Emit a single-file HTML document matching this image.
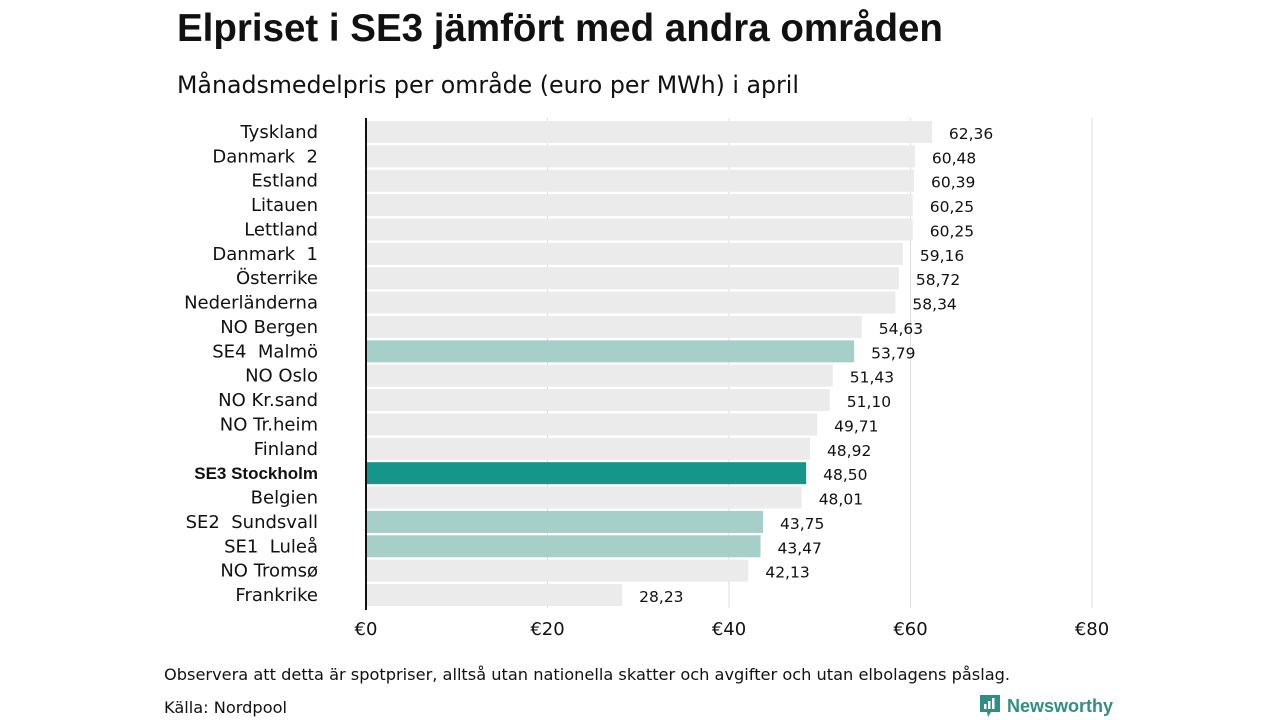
<!DOCTYPE html>
<html><head><meta charset="utf-8"><style>
body{margin:0;width:1280px;height:720px;background:#fff;font-family:"DejaVu Sans","Liberation Sans",sans-serif;color:#111;overflow:hidden;position:relative}
.t{position:absolute;white-space:nowrap}
</style></head><body>
<div class="t" style="left:177px;top:7px;font-family:'Liberation Sans',sans-serif;font-weight:bold;font-size:38.5px">Elpriset i SE3 jämfört med andra områden</div>
<div class="t" style="left:177px;top:71px;font-size:23.7px">Månadsmedelpris per område (euro per MWh) i april</div>
<svg id="c" width="1280" height="720" style="position:absolute;left:0;top:0"></svg>
<div class="t" style="left:164px;top:665px;font-size:16.2px">Observera att detta är spotpriser, alltså utan nationella skatter och avgifter och utan elbolagens påslag.</div>
<div class="t" style="left:164px;top:698px;font-size:16.2px">Källa: Nordpool</div>
<div class="t" style="left:979px;top:694px;font-size:18px;font-family:'Liberation Sans',sans-serif;font-weight:bold;color:#2f8f82;display:flex;align-items:center;gap:6px">
<svg width="22" height="24" viewBox="0 0 22 24"><path d="M1 1h20v17H12l-3 5-1-5H1z" fill="#2f8f82"/><rect x="5" y="10" width="2.5" height="5" fill="#fff"/><rect x="9" y="7" width="2.5" height="8" fill="#fff"/><rect x="13" y="4" width="2.5" height="11" fill="#fff"/></svg>Newsworthy</div>
<script>
const categories=["Tyskland","Danmark  2","Estland","Litauen","Lettland","Danmark  1","Österrike","Nederländerna","NO Bergen","SE4  Malmö","NO Oslo","NO Kr.sand","NO Tr.heim","Finland","SE3 Stockholm","Belgien","SE2  Sundsvall","SE1  Luleå","NO Tromsø","Frankrike"];
const values=[62.36,60.48,60.39,60.25,60.25,59.16,58.72,58.34,54.63,53.79,51.43,51.10,49.71,48.92,48.50,48.01,43.75,43.47,42.13,28.23];
const highlight=["","","","","","","","","","light","","","","","dark","","light","light","",""];
const ticks=[0,20,40,60,80];
const NS="http://www.w3.org/2000/svg",svg=document.getElementById('c');
const x=v=>366+v*9.075, y=i=>121+i*24.37;
function mk(t,a){const e=document.createElementNS(NS,t);for(const k in a)e.setAttribute(k,a[k]);svg.appendChild(e);return e;}
ticks.forEach(t=>{
 if(t>0){const g=mk('line',{x1:x(t),x2:x(t),y1:118,y2:608,stroke:'#ddd','stroke-width':1});
 
 }
 const l=mk('text',{x:x(t),y:635,'text-anchor':'middle','font-size':18,'font-family':'DejaVu Sans,sans-serif',fill:'#111'});
 l.textContent='€'+t;
 
 
});
categories.forEach((c,i)=>{
 const col=highlight[i]=='dark'?'#16968a':highlight[i]=='light'?'#a5cfc8':'#ebebeb';
 const r=mk('rect',{x:x(0),y:y(i),width:x(values[i])-x(0),height:22,fill:col});
 
 
 const b=highlight[i]=='dark';
 const l=mk('text',{x:318,y:y(i)+17,'text-anchor':'end','font-size':b?17:18,'font-weight':b?'bold':'normal','font-family':b?'Liberation Sans,sans-serif':'DejaVu Sans,sans-serif',fill:'#111',style:'white-space:pre'});
 l.textContent=c;
 
 
 const v=mk('text',{x:x(values[i])+17,y:y(i)+18,'font-size':15.5,'font-family':'DejaVu Sans,sans-serif',fill:'#111'});
 v.textContent=values[i].toFixed(2).replace('.',',');
 
 
});
const ax=mk('line',{x1:x(0),x2:x(0),y1:118,y2:610,stroke:'#111','stroke-width':2});


</script>
</body></html>
